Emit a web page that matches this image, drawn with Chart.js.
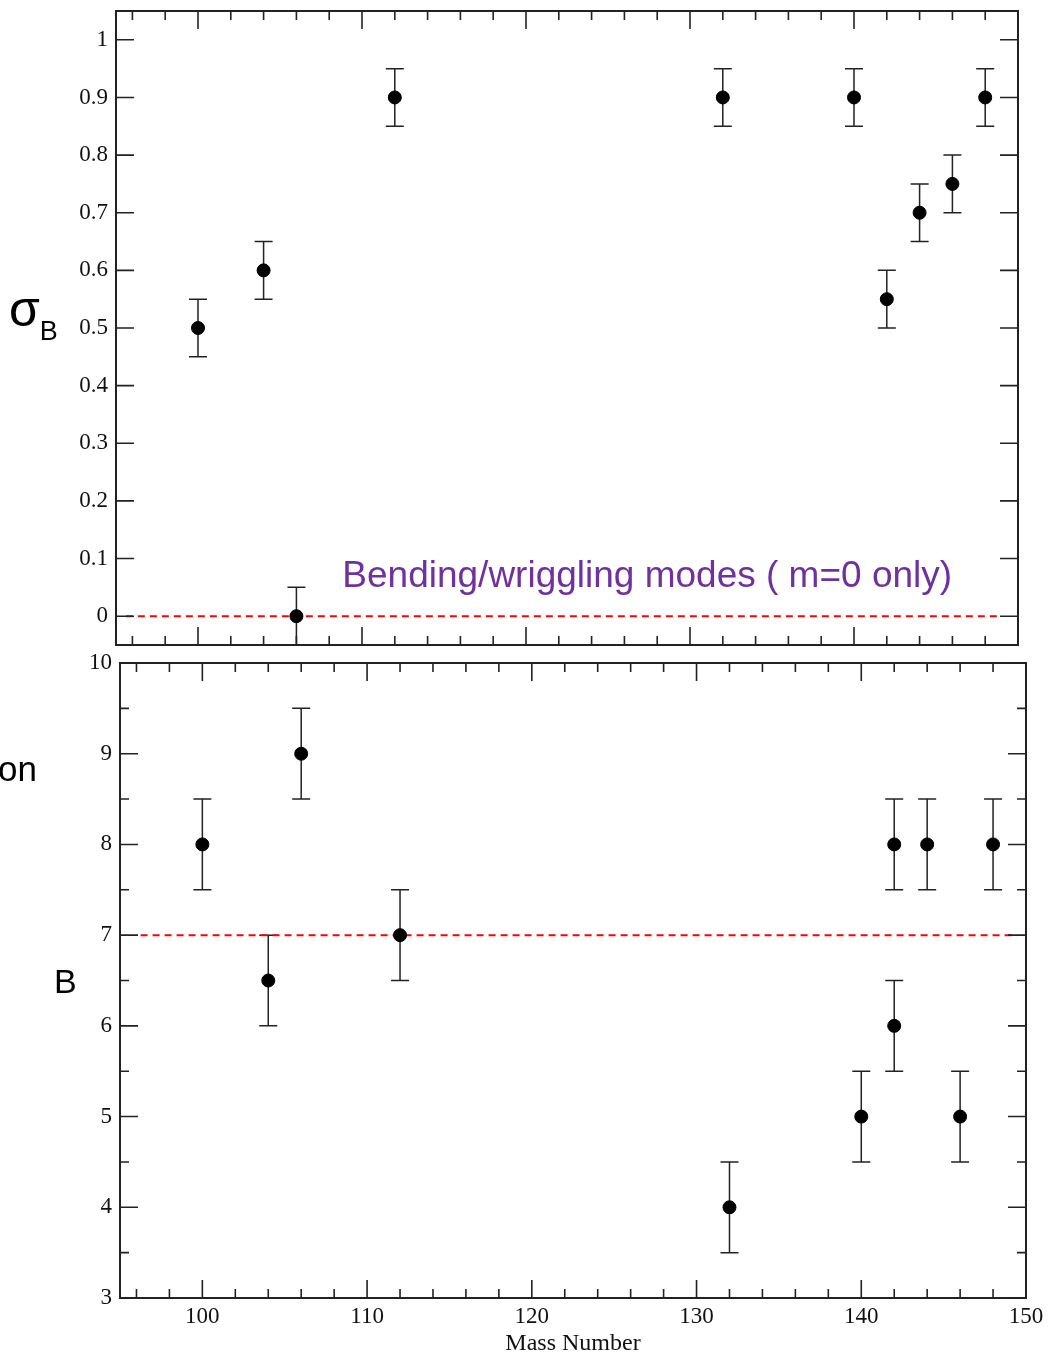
<!DOCTYPE html>
<html>
<head>
<meta charset="utf-8">
<script src="https://cdn.jsdelivr.net/npm/chart.js@4/dist/chart.umd.min.js"></script>
<style>
  body { margin: 0; background: #fff; }
  #wrap { position: relative; width: 1049px; height: 1354px; overflow: hidden; }
  canvas { position: absolute; left: 0; }
  .lbl { position: absolute; font-family: "Liberation Sans", Arial, sans-serif; color: #000; white-space: nowrap; }
</style>
</head>
<body>
<div id="wrap">
  <canvas id="topChart" width="1049" height="694" style="top:-19px"></canvas>
  <canvas id="bottomChart" width="1049" height="723" style="top:635px"></canvas>
  <div class="lbl" style="left:9px; top:280px; font-size:50px;">σ<span style="font-size:27px; position:relative; top:14px;">B</span></div>
  <div class="lbl" style="left:-2px; top:749px; font-size:35px;">on</div>
  <div class="lbl" style="left:54px; top:962px; font-size:34px;">B</div>
</div>
<script>
// top panel: sigma_B vs mass number
var massTop = [100, 104, 106, 112, 132, 140, 142, 144, 146, 148];
var sigmaB = [0.5, 0.6, 0, 0.9, 0.9, 0.9, 0.55, 0.7, 0.75, 0.9];
var sigmaErr = [0.05, 0.05, 0.05, 0.05, 0.05, 0.05, 0.05, 0.05, 0.05, 0.05];

// bottom panel
var massBottom = [100, 104, 106, 112, 132, 140, 142, 142, 144, 146, 148];
var valBottom = [8, 6.5, 9, 7, 4, 5, 8, 6, 8, 5, 8];
var valErr = [0.5, 0.5, 0.5, 0.5, 0.5, 0.5, 0.5, 0.5, 0.5, 0.5, 0.5];

// reference lines
var refTopX = [95.6, 148.96];
var refTopY = [0, 0];
var refBottomX = [96.25, 149.45];
var refBottomY = [7, 7];

// ticks
var xMajor = [100, 110, 120, 130, 140, 150];
var xMinor = [96, 98, 102, 104, 106, 108, 112, 114, 116, 118, 122, 124, 126, 128, 132, 134, 136, 138, 142, 144, 146, 148];
var yTopMajor = [0, 0.1, 0.2, 0.3, 0.4, 0.5, 0.6, 0.7, 0.8, 0.9, 1];
var yBottomMajor = [3, 4, 5, 6, 7, 8, 9, 10];
var yBottomMinor = [3.5, 4.5, 5.5, 6.5, 7.5, 8.5, 9.5];

var annotation = "Bending/wriggling modes ( m=0 only)";

function toPts(xs, ys) {
    var out = [];
    for (let i = 0; i < xs.length; i++) out.push({ x: xs[i], y: ys[i] });
    return out;
}

// draws error bars, frame and inward ticks using the chart's scales
function framePlugin(cfg) {
    return {
        id: 'frame_' + cfg.name,
        beforeDatasetsDraw(chart) {
            const ctx = chart.ctx;
            const xs = chart.scales.x, ys = chart.scales.y;
            ctx.save();
            ctx.strokeStyle = '#222';
            ctx.lineWidth = 1.5;
            for (let i = 0; i < cfg.ex.length; i++) {
                const px = xs.getPixelForValue(cfg.ex[i]);
                const p1 = ys.getPixelForValue(cfg.ey[i] - cfg.err[i]);
                const p2 = ys.getPixelForValue(cfg.ey[i] + cfg.err[i]);
                ctx.beginPath();
                ctx.moveTo(px, p1); ctx.lineTo(px, p2);
                ctx.moveTo(px - 9, p1); ctx.lineTo(px + 9, p1);
                ctx.moveTo(px - 9, p2); ctx.lineTo(px + 9, p2);
                ctx.stroke();
            }
            ctx.restore();
        },
        afterDraw(chart) {
            const ctx = chart.ctx;
            const a = chart.chartArea;
            const xs = chart.scales.x, ys = chart.scales.y;
            ctx.save();
            ctx.strokeStyle = '#222';
            ctx.lineWidth = 2;
            ctx.strokeRect(a.left, a.top, a.right - a.left, a.bottom - a.top);
            ctx.lineWidth = 1.6;
            ctx.beginPath();
            function xt(v, len) {
                const p = xs.getPixelForValue(v);
                ctx.moveTo(p, a.bottom); ctx.lineTo(p, a.bottom - len);
                ctx.moveTo(p, a.top); ctx.lineTo(p, a.top + len);
            }
            function yt(v, len) {
                const p = ys.getPixelForValue(v);
                ctx.moveTo(a.left, p); ctx.lineTo(a.left + len, p);
                ctx.moveTo(a.right, p); ctx.lineTo(a.right - len, p);
            }
            xMajor.forEach(v => { if (v < 150) xt(v, 18); });
            xMinor.forEach(v => xt(v, 9));
            cfg.yMajor.forEach(v => yt(v, 18));
            cfg.yMinor.forEach(v => yt(v, 9));
            ctx.stroke();
            if (cfg.text) {
                ctx.fillStyle = '#7030A0';
                ctx.font = '37px "Liberation Sans", Arial, sans-serif';
                ctx.textBaseline = 'middle';
                ctx.textAlign = 'left';
                ctx.fillText(cfg.text, xs.getPixelForValue(108.8), ys.getPixelForValue(0.068));
            }
            ctx.restore();
        }
    };
}

var tickFont = { family: '"Liberation Serif", "Times New Roman", serif', size: 23 };

function makeChart(id, opts) {
    new Chart(document.getElementById(id), {
        type: 'scatter',
        data: {
            datasets: [{
                data: toPts(opts.ex, opts.ey),
                backgroundColor: '#000',
                borderColor: '#000',
                pointRadius: 6.5,
                pointHoverRadius: 6.5
            }, {
                data: toPts(opts.refX, opts.refY),
                showLine: true,
                borderColor: '#ff0000',
                borderWidth: 2,
                borderDash: [7, 5],
                pointRadius: 0,
                order: 1
            }]
        },
        options: {
            responsive: false,
            animation: false,
            events: [],
            layout: { padding: opts.padding },
            plugins: { legend: { display: false }, tooltip: { enabled: false } },
            scales: {
                x: {
                    type: 'linear',
                    min: 95, max: 150,
                    grid: { display: false, drawTicks: false },
                    border: { display: false },
                    afterBuildTicks: s => { s.ticks = xMajor.map(v => ({ value: v })); },
                    afterFit: s => { s.height = opts.xHeight; },
                    ticks: { display: opts.showX, padding: 5, font: tickFont, color: '#111', maxRotation: 0 },
                    title: {
                        display: opts.showX,
                        text: 'Mass Number',
                        font: { family: '"Liberation Serif", "Times New Roman", serif', size: 24 },
                        color: '#111',
                        padding: 0
                    }
                },
                y: {
                    type: 'linear',
                    min: opts.yMin, max: opts.yMax,
                    grid: { display: false, drawTicks: false },
                    border: { display: false },
                    afterBuildTicks: s => { s.ticks = opts.yMajor.map(v => ({ value: v })); },
                    afterFit: s => { s.width = opts.yWidth; },
                    ticks: { padding: 8, font: tickFont, color: '#111', callback: v => String(v) }
                }
            }
        },
        plugins: [framePlugin({
            name: id, ex: opts.ex, ey: opts.ey, err: opts.err,
            yMajor: opts.yMajor, yMinor: opts.yMinor, text: opts.text
        })]
    });
}

makeChart('topChart', {
    ex: massTop, ey: sigmaB, err: sigmaErr,
    refX: refTopX, refY: refTopY,
    yMin: -0.05, yMax: 1.05,
    yMajor: yTopMajor, yMinor: [],
    padding: { left: 0, right: 31, top: 30, bottom: 30 },
    xHeight: 0, yWidth: 116, showX: false,
    text: annotation
});

makeChart('bottomChart', {
    ex: massBottom, ey: valBottom, err: valErr,
    refX: refBottomX, refY: refBottomY,
    yMin: 3, yMax: 10,
    yMajor: yBottomMajor, yMinor: yBottomMinor,
    padding: { left: 0, right: 23, top: 28, bottom: 0 },
    xHeight: 60, yWidth: 120, showX: true,
    text: null
});
</script>
</body>
</html>
